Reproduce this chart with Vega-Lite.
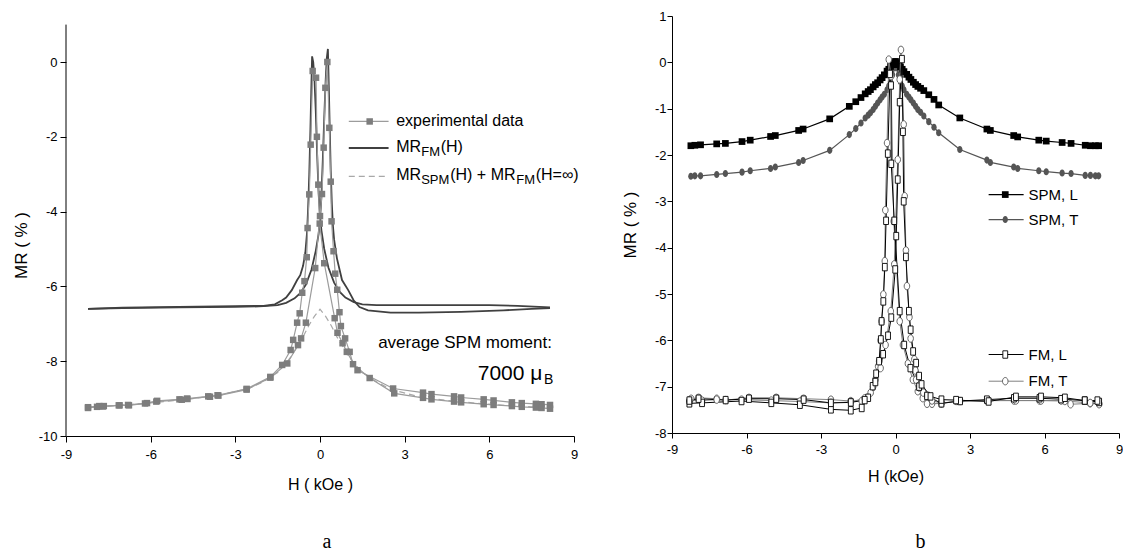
{
"$schema": "https://vega.github.io/schema/vega-lite/v6.json",
"background": "white",
"padding": {"left": 12, "top": 10, "right": 0, "bottom": 0},
"bounds": "flush",
"spacing": 98,
"config": {
  "view": {"stroke": null},
  "axis": {"grid": false, "domainColor": "#000", "tickColor": "#000", "labelColor": "#000", "titleColor": "#000", "labelFont": "Liberation Sans", "titleFont": "Liberation Sans", "titleFontWeight": "normal", "labelFontSize": 13, "titleFontSize": 16, "labelFlush": false, "labelOverlap": false}
},
"datasets": {
"left": [
{"s":"exp","b":"A","H":8.15,"MR":-9.17},{"s":"exp","b":"A","H":7.85,"MR":-9.15},{"s":"exp","b":"A","H":7.65,"MR":-9.14},{"s":"exp","b":"A","H":7.15,"MR":-9.12},{"s":"exp","b":"A","H":6.8,"MR":-9.1},{"s":"exp","b":"A","H":6.15,"MR":-9.05},{"s":"exp","b":"A","H":5.8,"MR":-9.02},{"s":"exp","b":"A","H":5.0,"MR":-8.97},{"s":"exp","b":"A","H":4.75,"MR":-8.94},{"s":"exp","b":"A","H":3.95,"MR":-8.88},{"s":"exp","b":"A","H":3.65,"MR":-8.84},{"s":"exp","b":"A","H":2.59,"MR":-8.73},{"s":"exp","b":"A","H":1.33,"MR":-8.24},{"s":"exp","b":"A","H":0.95,"MR":-7.75},{"s":"exp","b":"A","H":0.8,"MR":-7.52},{"s":"exp","b":"A","H":0.62,"MR":-7.24},{"s":"exp","b":"A","H":0.52,"MR":-6.85},{"s":"exp","b":"A","H":0.15,"MR":-5.38},{"s":"exp","b":"A","H":-0.01,"MR":-4.32},{"s":"exp","b":"A","H":-0.06,"MR":-3.28},{"s":"exp","b":"A","H":-0.11,"MR":-2.0},{"s":"exp","b":"A","H":-0.14,"MR":-0.42},{"s":"exp","b":"A","H":-0.26,"MR":-0.24},{"s":"exp","b":"A","H":-0.33,"MR":-2.21},{"s":"exp","b":"A","H":-0.38,"MR":-3.54},{"s":"exp","b":"A","H":-0.44,"MR":-4.44},{"s":"exp","b":"A","H":-0.47,"MR":-5.22},{"s":"exp","b":"A","H":-0.55,"MR":-5.86},{"s":"exp","b":"A","H":-0.63,"MR":-6.17},{"s":"exp","b":"A","H":-0.72,"MR":-6.72},{"s":"exp","b":"A","H":-0.81,"MR":-6.97},{"s":"exp","b":"A","H":-0.95,"MR":-7.43},{"s":"exp","b":"A","H":-1.04,"MR":-7.7},{"s":"exp","b":"A","H":-1.34,"MR":-8.1},{"s":"exp","b":"A","H":-1.76,"MR":-8.42},{"s":"exp","b":"A","H":-2.6,"MR":-8.74},{"s":"exp","b":"A","H":-3.63,"MR":-8.91},{"s":"exp","b":"A","H":-3.96,"MR":-8.94},{"s":"exp","b":"A","H":-4.71,"MR":-9.0},{"s":"exp","b":"A","H":-4.98,"MR":-9.02},{"s":"exp","b":"A","H":-5.77,"MR":-9.06},{"s":"exp","b":"A","H":-6.13,"MR":-9.12},{"s":"exp","b":"A","H":-6.77,"MR":-9.18},{"s":"exp","b":"A","H":-7.13,"MR":-9.18},{"s":"exp","b":"A","H":-7.66,"MR":-9.2},{"s":"exp","b":"A","H":-7.82,"MR":-9.2},{"s":"exp","b":"A","H":-8.22,"MR":-9.23},
{"s":"exp","b":"B","H":-8.22,"MR":-9.25},{"s":"exp","b":"B","H":-7.9,"MR":-9.22},{"s":"exp","b":"B","H":-7.7,"MR":-9.21},{"s":"exp","b":"B","H":-7.1,"MR":-9.18},{"s":"exp","b":"B","H":-6.8,"MR":-9.17},{"s":"exp","b":"B","H":-6.2,"MR":-9.13},{"s":"exp","b":"B","H":-5.8,"MR":-9.08},{"s":"exp","b":"B","H":-4.9,"MR":-9.03},{"s":"exp","b":"B","H":-4.7,"MR":-9.01},{"s":"exp","b":"B","H":-3.9,"MR":-8.95},{"s":"exp","b":"B","H":-3.6,"MR":-8.92},{"s":"exp","b":"B","H":-2.6,"MR":-8.76},{"s":"exp","b":"B","H":-1.76,"MR":-8.44},{"s":"exp","b":"B","H":-1.16,"MR":-8.06},{"s":"exp","b":"B","H":-0.78,"MR":-7.57},{"s":"exp","b":"B","H":-0.67,"MR":-7.39},{"s":"exp","b":"B","H":-0.5,"MR":-6.97},{"s":"exp","b":"B","H":-0.17,"MR":-5.51},{"s":"exp","b":"B","H":0.0,"MR":-4.12},{"s":"exp","b":"B","H":0.07,"MR":-3.53},{"s":"exp","b":"B","H":0.13,"MR":-2.29},{"s":"exp","b":"B","H":0.19,"MR":-0.69},{"s":"exp","b":"B","H":0.26,"MR":0.0},{"s":"exp","b":"B","H":0.33,"MR":-1.76},{"s":"exp","b":"B","H":0.38,"MR":-3.2},{"s":"exp","b":"B","H":0.41,"MR":-4.26},{"s":"exp","b":"B","H":0.48,"MR":-5.06},{"s":"exp","b":"B","H":0.54,"MR":-5.66},{"s":"exp","b":"B","H":0.61,"MR":-6.09},{"s":"exp","b":"B","H":0.69,"MR":-6.69},{"s":"exp","b":"B","H":0.74,"MR":-7.06},{"s":"exp","b":"B","H":0.89,"MR":-7.39},{"s":"exp","b":"B","H":1.05,"MR":-7.75},{"s":"exp","b":"B","H":1.17,"MR":-8.08},{"s":"exp","b":"B","H":1.76,"MR":-8.45},{"s":"exp","b":"B","H":2.63,"MR":-8.86},{"s":"exp","b":"B","H":3.65,"MR":-8.98},{"s":"exp","b":"B","H":3.95,"MR":-9.02},{"s":"exp","b":"B","H":4.75,"MR":-9.08},{"s":"exp","b":"B","H":5.0,"MR":-9.1},{"s":"exp","b":"B","H":5.8,"MR":-9.15},{"s":"exp","b":"B","H":6.15,"MR":-9.17},{"s":"exp","b":"B","H":6.8,"MR":-9.2},{"s":"exp","b":"B","H":7.15,"MR":-9.22},{"s":"exp","b":"B","H":7.65,"MR":-9.24},{"s":"exp","b":"B","H":7.85,"MR":-9.25},{"s":"exp","b":"B","H":8.15,"MR":-9.27},
{"s":"fm","b":"A","H":8.15,"MR":-6.56},{"s":"fm","b":"A","H":7,"MR":-6.52},{"s":"fm","b":"A","H":6,"MR":-6.5},{"s":"fm","b":"A","H":5,"MR":-6.5},{"s":"fm","b":"A","H":4,"MR":-6.5},{"s":"fm","b":"A","H":3,"MR":-6.5},{"s":"fm","b":"A","H":2,"MR":-6.5},{"s":"fm","b":"A","H":1.5,"MR":-6.48},{"s":"fm","b":"A","H":1.2,"MR":-6.42},{"s":"fm","b":"A","H":0.9,"MR":-6.3},{"s":"fm","b":"A","H":0.7,"MR":-6.15},{"s":"fm","b":"A","H":0.5,"MR":-5.9},{"s":"fm","b":"A","H":0.3,"MR":-5.5},{"s":"fm","b":"A","H":0.15,"MR":-5.0},{"s":"fm","b":"A","H":0.05,"MR":-4.5},{"s":"fm","b":"A","H":0.0,"MR":-4.1},{"s":"fm","b":"A","H":-0.05,"MR":-3.5},{"s":"fm","b":"A","H":-0.1,"MR":-2.5},{"s":"fm","b":"A","H":-0.15,"MR":-1.3},{"s":"fm","b":"A","H":-0.2,"MR":-0.4},{"s":"fm","b":"A","H":-0.24,"MR":0.0},{"s":"fm","b":"A","H":-0.28,"MR":0.15},{"s":"fm","b":"A","H":-0.31,"MR":-0.8},{"s":"fm","b":"A","H":-0.34,"MR":-1.8},{"s":"fm","b":"A","H":-0.38,"MR":-3.0},{"s":"fm","b":"A","H":-0.42,"MR":-3.9},{"s":"fm","b":"A","H":-0.46,"MR":-4.57},{"s":"fm","b":"A","H":-0.52,"MR":-5.1},{"s":"fm","b":"A","H":-0.6,"MR":-5.45},{"s":"fm","b":"A","H":-0.7,"MR":-5.7},{"s":"fm","b":"A","H":-0.81,"MR":-5.83},{"s":"fm","b":"A","H":-1.0,"MR":-6.1},{"s":"fm","b":"A","H":-1.2,"MR":-6.3},{"s":"fm","b":"A","H":-1.34,"MR":-6.37},{"s":"fm","b":"A","H":-1.6,"MR":-6.48},{"s":"fm","b":"A","H":-2,"MR":-6.52},{"s":"fm","b":"A","H":-3,"MR":-6.53},{"s":"fm","b":"A","H":-5,"MR":-6.55},{"s":"fm","b":"A","H":-7,"MR":-6.57},{"s":"fm","b":"A","H":-8.22,"MR":-6.6},
{"s":"fm","b":"B","H":-8.22,"MR":-6.6},{"s":"fm","b":"B","H":-7,"MR":-6.58},{"s":"fm","b":"B","H":-5,"MR":-6.56},{"s":"fm","b":"B","H":-3,"MR":-6.55},{"s":"fm","b":"B","H":-2,"MR":-6.53},{"s":"fm","b":"B","H":-1.5,"MR":-6.5},{"s":"fm","b":"B","H":-1.2,"MR":-6.44},{"s":"fm","b":"B","H":-0.9,"MR":-6.32},{"s":"fm","b":"B","H":-0.7,"MR":-6.18},{"s":"fm","b":"B","H":-0.5,"MR":-5.95},{"s":"fm","b":"B","H":-0.3,"MR":-5.55},{"s":"fm","b":"B","H":-0.15,"MR":-5.05},{"s":"fm","b":"B","H":-0.05,"MR":-4.6},{"s":"fm","b":"B","H":0.0,"MR":-4.22},{"s":"fm","b":"B","H":0.05,"MR":-3.6},{"s":"fm","b":"B","H":0.1,"MR":-2.6},{"s":"fm","b":"B","H":0.15,"MR":-1.5},{"s":"fm","b":"B","H":0.2,"MR":-0.5},{"s":"fm","b":"B","H":0.24,"MR":0.1},{"s":"fm","b":"B","H":0.28,"MR":0.35},{"s":"fm","b":"B","H":0.31,"MR":-0.6},{"s":"fm","b":"B","H":0.34,"MR":-1.6},{"s":"fm","b":"B","H":0.38,"MR":-2.9},{"s":"fm","b":"B","H":0.42,"MR":-3.8},{"s":"fm","b":"B","H":0.46,"MR":-4.4},{"s":"fm","b":"B","H":0.5,"MR":-4.75},{"s":"fm","b":"B","H":0.6,"MR":-5.25},{"s":"fm","b":"B","H":0.78,"MR":-5.83},{"s":"fm","b":"B","H":1.0,"MR":-6.1},{"s":"fm","b":"B","H":1.19,"MR":-6.37},{"s":"fm","b":"B","H":1.4,"MR":-6.55},{"s":"fm","b":"B","H":1.7,"MR":-6.64},{"s":"fm","b":"B","H":2.5,"MR":-6.7},{"s":"fm","b":"B","H":3.5,"MR":-6.7},{"s":"fm","b":"B","H":5,"MR":-6.68},{"s":"fm","b":"B","H":6.5,"MR":-6.64},{"s":"fm","b":"B","H":7.5,"MR":-6.6},{"s":"fm","b":"B","H":8.15,"MR":-6.58},
{"s":"spm","b":"A","H":-8.22,"MR":-9.24},{"s":"spm","b":"A","H":-7.5,"MR":-9.2},{"s":"spm","b":"A","H":-6.5,"MR":-9.15},{"s":"spm","b":"A","H":-5.5,"MR":-9.08},{"s":"spm","b":"A","H":-4.5,"MR":-9.0},{"s":"spm","b":"A","H":-3.5,"MR":-8.9},{"s":"spm","b":"A","H":-2.5,"MR":-8.72},{"s":"spm","b":"A","H":-2.0,"MR":-8.55},{"s":"spm","b":"A","H":-1.5,"MR":-8.3},{"s":"spm","b":"A","H":-1.2,"MR":-8.05},{"s":"spm","b":"A","H":-1.0,"MR":-7.85},{"s":"spm","b":"A","H":-0.8,"MR":-7.6},{"s":"spm","b":"A","H":-0.6,"MR":-7.35},{"s":"spm","b":"A","H":-0.4,"MR":-7.05},{"s":"spm","b":"A","H":-0.2,"MR":-6.8},{"s":"spm","b":"A","H":0.0,"MR":-6.61},{"s":"spm","b":"A","H":0.2,"MR":-6.8},{"s":"spm","b":"A","H":0.4,"MR":-7.05},{"s":"spm","b":"A","H":0.6,"MR":-7.35},{"s":"spm","b":"A","H":0.8,"MR":-7.6},{"s":"spm","b":"A","H":1.0,"MR":-7.85},{"s":"spm","b":"A","H":1.2,"MR":-8.05},{"s":"spm","b":"A","H":1.5,"MR":-8.3},{"s":"spm","b":"A","H":2.0,"MR":-8.55},{"s":"spm","b":"A","H":2.5,"MR":-8.75},{"s":"spm","b":"A","H":3.5,"MR":-8.95},{"s":"spm","b":"A","H":4.5,"MR":-9.05},{"s":"spm","b":"A","H":5.5,"MR":-9.12},{"s":"spm","b":"A","H":6.5,"MR":-9.18},{"s":"spm","b":"A","H":7.5,"MR":-9.22},{"s":"spm","b":"A","H":8.15,"MR":-9.25}
],
"right": [
{"s":"SPML","H":-8.24,"MR":-1.8},{"s":"SPML","H":-8.08,"MR":-1.79},{"s":"SPML","H":-7.85,"MR":-1.78},{"s":"SPML","H":-7.2,"MR":-1.76},{"s":"SPML","H":-6.85,"MR":-1.75},{"s":"SPML","H":-6.18,"MR":-1.71},{"s":"SPML","H":-5.85,"MR":-1.68},{"s":"SPML","H":-5.03,"MR":-1.6},{"s":"SPML","H":-4.84,"MR":-1.58},{"s":"SPML","H":-3.9,"MR":-1.47},{"s":"SPML","H":-3.72,"MR":-1.44},{"s":"SPML","H":-2.65,"MR":-1.22},{"s":"SPML","H":-1.86,"MR":-0.95},{"s":"SPML","H":-1.6,"MR":-0.85},{"s":"SPML","H":-1.39,"MR":-0.76},{"s":"SPML","H":-1.22,"MR":-0.68},{"s":"SPML","H":-1.1,"MR":-0.63},{"s":"SPML","H":-1.01,"MR":-0.59},{"s":"SPML","H":-0.9,"MR":-0.53},{"s":"SPML","H":-0.81,"MR":-0.48},{"s":"SPML","H":-0.72,"MR":-0.44},{"s":"SPML","H":-0.62,"MR":-0.38},{"s":"SPML","H":-0.54,"MR":-0.33},{"s":"SPML","H":-0.45,"MR":-0.27},{"s":"SPML","H":-0.34,"MR":-0.19},{"s":"SPML","H":-0.27,"MR":-0.15},{"s":"SPML","H":-0.2,"MR":-0.09},{"s":"SPML","H":-0.12,"MR":-0.05},{"s":"SPML","H":-0.05,"MR":-0.01},{"s":"SPML","H":0.0,"MR":0.02},{"s":"SPML","H":0.05,"MR":-0.01},{"s":"SPML","H":0.12,"MR":-0.05},{"s":"SPML","H":0.2,"MR":-0.1},{"s":"SPML","H":0.27,"MR":-0.15},{"s":"SPML","H":0.34,"MR":-0.2},{"s":"SPML","H":0.45,"MR":-0.26},{"s":"SPML","H":0.54,"MR":-0.32},{"s":"SPML","H":0.62,"MR":-0.37},{"s":"SPML","H":0.72,"MR":-0.43},{"s":"SPML","H":0.81,"MR":-0.48},{"s":"SPML","H":0.9,"MR":-0.52},{"s":"SPML","H":1.01,"MR":-0.56},{"s":"SPML","H":1.14,"MR":-0.61},{"s":"SPML","H":1.34,"MR":-0.7},{"s":"SPML","H":1.55,"MR":-0.8},{"s":"SPML","H":1.74,"MR":-0.92},{"s":"SPML","H":2.59,"MR":-1.2},{"s":"SPML","H":3.68,"MR":-1.44},{"s":"SPML","H":3.82,"MR":-1.47},{"s":"SPML","H":4.76,"MR":-1.58},{"s":"SPML","H":4.92,"MR":-1.61},{"s":"SPML","H":5.77,"MR":-1.68},{"s":"SPML","H":6.07,"MR":-1.7},{"s":"SPML","H":6.71,"MR":-1.73},{"s":"SPML","H":7.07,"MR":-1.75},{"s":"SPML","H":7.64,"MR":-1.79},{"s":"SPML","H":7.85,"MR":-1.8},{"s":"SPML","H":8.05,"MR":-1.8},{"s":"SPML","H":8.18,"MR":-1.8},
{"s":"SPMT","H":-8.24,"MR":-2.46},{"s":"SPMT","H":-8.08,"MR":-2.45},{"s":"SPMT","H":-7.85,"MR":-2.45},{"s":"SPMT","H":-7.2,"MR":-2.42},{"s":"SPMT","H":-6.85,"MR":-2.4},{"s":"SPMT","H":-6.18,"MR":-2.37},{"s":"SPMT","H":-5.85,"MR":-2.34},{"s":"SPMT","H":-5.03,"MR":-2.29},{"s":"SPMT","H":-4.84,"MR":-2.26},{"s":"SPMT","H":-3.9,"MR":-2.16},{"s":"SPMT","H":-3.72,"MR":-2.12},{"s":"SPMT","H":-2.65,"MR":-1.9},{"s":"SPMT","H":-1.86,"MR":-1.56},{"s":"SPMT","H":-1.6,"MR":-1.43},{"s":"SPMT","H":-1.39,"MR":-1.31},{"s":"SPMT","H":-1.22,"MR":-1.2},{"s":"SPMT","H":-1.1,"MR":-1.14},{"s":"SPMT","H":-1.01,"MR":-1.09},{"s":"SPMT","H":-0.9,"MR":-1.02},{"s":"SPMT","H":-0.81,"MR":-0.95},{"s":"SPMT","H":-0.72,"MR":-0.88},{"s":"SPMT","H":-0.62,"MR":-0.81},{"s":"SPMT","H":-0.54,"MR":-0.75},{"s":"SPMT","H":-0.45,"MR":-0.69},{"s":"SPMT","H":-0.34,"MR":-0.59},{"s":"SPMT","H":-0.27,"MR":-0.51},{"s":"SPMT","H":-0.2,"MR":-0.42},{"s":"SPMT","H":-0.12,"MR":-0.27},{"s":"SPMT","H":-0.05,"MR":-0.12},{"s":"SPMT","H":0.0,"MR":0.01},{"s":"SPMT","H":0.05,"MR":-0.12},{"s":"SPMT","H":0.12,"MR":-0.27},{"s":"SPMT","H":0.2,"MR":-0.42},{"s":"SPMT","H":0.27,"MR":-0.51},{"s":"SPMT","H":0.34,"MR":-0.59},{"s":"SPMT","H":0.45,"MR":-0.69},{"s":"SPMT","H":0.54,"MR":-0.75},{"s":"SPMT","H":0.62,"MR":-0.81},{"s":"SPMT","H":0.72,"MR":-0.88},{"s":"SPMT","H":0.81,"MR":-0.95},{"s":"SPMT","H":0.9,"MR":-1.02},{"s":"SPMT","H":1.01,"MR":-1.08},{"s":"SPMT","H":1.14,"MR":-1.16},{"s":"SPMT","H":1.34,"MR":-1.28},{"s":"SPMT","H":1.55,"MR":-1.4},{"s":"SPMT","H":1.74,"MR":-1.52},{"s":"SPMT","H":2.59,"MR":-1.88},{"s":"SPMT","H":3.68,"MR":-2.11},{"s":"SPMT","H":3.82,"MR":-2.16},{"s":"SPMT","H":4.76,"MR":-2.26},{"s":"SPMT","H":4.92,"MR":-2.29},{"s":"SPMT","H":5.77,"MR":-2.34},{"s":"SPMT","H":6.07,"MR":-2.36},{"s":"SPMT","H":6.71,"MR":-2.39},{"s":"SPMT","H":7.07,"MR":-2.4},{"s":"SPMT","H":7.64,"MR":-2.44},{"s":"SPMT","H":7.85,"MR":-2.44},{"s":"SPMT","H":8.05,"MR":-2.45},{"s":"SPMT","H":8.18,"MR":-2.45},
{"s":"FML","b":"A","H":8.2,"MR":-7.33},{"s":"FML","b":"A","H":7.62,"MR":-7.3},{"s":"FML","b":"A","H":6.67,"MR":-7.27},{"s":"FML","b":"A","H":5.8,"MR":-7.25},{"s":"FML","b":"A","H":4.77,"MR":-7.25},{"s":"FML","b":"A","H":3.68,"MR":-7.28},{"s":"FML","b":"A","H":2.6,"MR":-7.31},{"s":"FML","b":"A","H":1.85,"MR":-7.36},{"s":"FML","b":"A","H":1.27,"MR":-7.2},{"s":"FML","b":"A","H":0.95,"MR":-7.0},{"s":"FML","b":"A","H":0.6,"MR":-6.6},{"s":"FML","b":"A","H":0.35,"MR":-6.1},{"s":"FML","b":"A","H":0.17,"MR":-5.37},{"s":"FML","b":"A","H":-0.05,"MR":-3.42},{"s":"FML","b":"A","H":-0.17,"MR":-2.19},{"s":"FML","b":"A","H":-0.18,"MR":-0.5},{"s":"FML","b":"A","H":-0.22,"MR":-0.25},{"s":"FML","b":"A","H":-0.31,"MR":-1.97},{"s":"FML","b":"A","H":-0.38,"MR":-3.42},{"s":"FML","b":"A","H":-0.43,"MR":-4.42},{"s":"FML","b":"A","H":-0.49,"MR":-5.16},{"s":"FML","b":"A","H":-0.56,"MR":-5.59},{"s":"FML","b":"A","H":-0.59,"MR":-5.98},{"s":"FML","b":"A","H":-0.66,"MR":-6.45},{"s":"FML","b":"A","H":-0.78,"MR":-6.72},{"s":"FML","b":"A","H":-0.92,"MR":-6.99},{"s":"FML","b":"A","H":-1.1,"MR":-7.24},{"s":"FML","b":"A","H":-1.36,"MR":-7.46},{"s":"FML","b":"A","H":-1.8,"MR":-7.51},{"s":"FML","b":"A","H":-2.6,"MR":-7.49},{"s":"FML","b":"A","H":-3.85,"MR":-7.39},{"s":"FML","b":"A","H":-5.0,"MR":-7.35},{"s":"FML","b":"A","H":-6.2,"MR":-7.31},{"s":"FML","b":"A","H":-7.79,"MR":-7.35},{"s":"FML","b":"A","H":-8.3,"MR":-7.36},
{"s":"FML","b":"B","H":-8.3,"MR":-7.3},{"s":"FML","b":"B","H":-7.93,"MR":-7.26},{"s":"FML","b":"B","H":-6.84,"MR":-7.29},{"s":"FML","b":"B","H":-5.9,"MR":-7.26},{"s":"FML","b":"B","H":-4.8,"MR":-7.26},{"s":"FML","b":"B","H":-3.7,"MR":-7.28},{"s":"FML","b":"B","H":-2.6,"MR":-7.35},{"s":"FML","b":"B","H":-1.8,"MR":-7.34},{"s":"FML","b":"B","H":-1.24,"MR":-7.29},{"s":"FML","b":"B","H":-0.81,"MR":-6.9},{"s":"FML","b":"B","H":-0.5,"MR":-6.3},{"s":"FML","b":"B","H":-0.3,"MR":-5.9},{"s":"FML","b":"B","H":-0.17,"MR":-5.51},{"s":"FML","b":"B","H":-0.01,"MR":-4.47},{"s":"FML","b":"B","H":0.03,"MR":-3.75},{"s":"FML","b":"B","H":0.09,"MR":-2.53},{"s":"FML","b":"B","H":0.17,"MR":-0.86},{"s":"FML","b":"B","H":0.26,"MR":0.07},{"s":"FML","b":"B","H":0.3,"MR":-1.5},{"s":"FML","b":"B","H":0.33,"MR":-3.0},{"s":"FML","b":"B","H":0.42,"MR":-4.2},{"s":"FML","b":"B","H":0.54,"MR":-5.37},{"s":"FML","b":"B","H":0.61,"MR":-5.77},{"s":"FML","b":"B","H":0.71,"MR":-6.24},{"s":"FML","b":"B","H":0.83,"MR":-6.49},{"s":"FML","b":"B","H":0.95,"MR":-6.77},{"s":"FML","b":"B","H":1.05,"MR":-6.95},{"s":"FML","b":"B","H":1.41,"MR":-7.21},{"s":"FML","b":"B","H":1.85,"MR":-7.28},{"s":"FML","b":"B","H":2.44,"MR":-7.29},{"s":"FML","b":"B","H":3.75,"MR":-7.32},{"s":"FML","b":"B","H":4.85,"MR":-7.22},{"s":"FML","b":"B","H":5.86,"MR":-7.22},{"s":"FML","b":"B","H":6.82,"MR":-7.24},{"s":"FML","b":"B","H":7.62,"MR":-7.3},{"s":"FML","b":"B","H":8.13,"MR":-7.3},
{"s":"FMT","b":"A","H":8.2,"MR":-7.36},{"s":"FMT","b":"A","H":7.84,"MR":-7.36},{"s":"FMT","b":"A","H":7.05,"MR":-7.38},{"s":"FMT","b":"A","H":6.67,"MR":-7.3},{"s":"FMT","b":"A","H":5.8,"MR":-7.3},{"s":"FMT","b":"A","H":4.77,"MR":-7.3},{"s":"FMT","b":"A","H":3.68,"MR":-7.3},{"s":"FMT","b":"A","H":2.6,"MR":-7.31},{"s":"FMT","b":"A","H":1.85,"MR":-7.36},{"s":"FMT","b":"A","H":1.47,"MR":-7.37},{"s":"FMT","b":"A","H":1.27,"MR":-7.37},{"s":"FMT","b":"A","H":1.1,"MR":-7.25},{"s":"FMT","b":"A","H":0.9,"MR":-7.1},{"s":"FMT","b":"A","H":0.7,"MR":-6.85},{"s":"FMT","b":"A","H":0.5,"MR":-6.5},{"s":"FMT","b":"A","H":0.3,"MR":-6.1},{"s":"FMT","b":"A","H":0.17,"MR":-5.59},{"s":"FMT","b":"A","H":-0.07,"MR":-3.43},{"s":"FMT","b":"A","H":-0.18,"MR":-0.3},{"s":"FMT","b":"A","H":-0.27,"MR":0.06},{"s":"FMT","b":"A","H":-0.34,"MR":-1.74},{"s":"FMT","b":"A","H":-0.41,"MR":-3.19},{"s":"FMT","b":"A","H":-0.43,"MR":-4.29},{"s":"FMT","b":"A","H":-0.49,"MR":-5.01},{"s":"FMT","b":"A","H":-0.56,"MR":-5.59},{"s":"FMT","b":"A","H":-0.6,"MR":-6.0},{"s":"FMT","b":"A","H":-0.66,"MR":-6.45},{"s":"FMT","b":"A","H":-0.7,"MR":-6.56},{"s":"FMT","b":"A","H":-0.81,"MR":-6.85},{"s":"FMT","b":"A","H":-1.0,"MR":-7.13},{"s":"FMT","b":"A","H":-1.36,"MR":-7.31},{"s":"FMT","b":"A","H":-1.8,"MR":-7.31},{"s":"FMT","b":"A","H":-2.6,"MR":-7.28},{"s":"FMT","b":"A","H":-3.7,"MR":-7.26},{"s":"FMT","b":"A","H":-4.8,"MR":-7.24},{"s":"FMT","b":"A","H":-5.9,"MR":-7.24},{"s":"FMT","b":"A","H":-6.84,"MR":-7.29},{"s":"FMT","b":"A","H":-7.2,"MR":-7.26},{"s":"FMT","b":"A","H":-7.93,"MR":-7.24},{"s":"FMT","b":"A","H":-8.23,"MR":-7.26},
{"s":"FMT","b":"B","H":-8.3,"MR":-7.3},{"s":"FMT","b":"B","H":-7.79,"MR":-7.3},{"s":"FMT","b":"B","H":-7.2,"MR":-7.28},{"s":"FMT","b":"B","H":-6.2,"MR":-7.28},{"s":"FMT","b":"B","H":-5.0,"MR":-7.3},{"s":"FMT","b":"B","H":-3.85,"MR":-7.32},{"s":"FMT","b":"B","H":-2.6,"MR":-7.35},{"s":"FMT","b":"B","H":-1.8,"MR":-7.33},{"s":"FMT","b":"B","H":-1.24,"MR":-7.25},{"s":"FMT","b":"B","H":-0.9,"MR":-7.0},{"s":"FMT","b":"B","H":-0.6,"MR":-6.6},{"s":"FMT","b":"B","H":-0.4,"MR":-6.1},{"s":"FMT","b":"B","H":-0.19,"MR":-5.37},{"s":"FMT","b":"B","H":-0.05,"MR":-4.36},{"s":"FMT","b":"B","H":0.09,"MR":-2.1},{"s":"FMT","b":"B","H":0.17,"MR":-0.37},{"s":"FMT","b":"B","H":0.22,"MR":0.27},{"s":"FMT","b":"B","H":0.33,"MR":-1.34},{"s":"FMT","b":"B","H":0.37,"MR":-2.89},{"s":"FMT","b":"B","H":0.42,"MR":-4.06},{"s":"FMT","b":"B","H":0.46,"MR":-4.83},{"s":"FMT","b":"B","H":0.56,"MR":-5.5},{"s":"FMT","b":"B","H":0.61,"MR":-5.96},{"s":"FMT","b":"B","H":0.76,"MR":-6.41},{"s":"FMT","b":"B","H":0.8,"MR":-6.65},{"s":"FMT","b":"B","H":0.83,"MR":-6.85},{"s":"FMT","b":"B","H":0.95,"MR":-7.02},{"s":"FMT","b":"B","H":1.12,"MR":-7.13},{"s":"FMT","b":"B","H":1.27,"MR":-7.2},{"s":"FMT","b":"B","H":1.47,"MR":-7.3},{"s":"FMT","b":"B","H":1.85,"MR":-7.36},{"s":"FMT","b":"B","H":2.44,"MR":-7.31},{"s":"FMT","b":"B","H":3.75,"MR":-7.3},{"s":"FMT","b":"B","H":4.85,"MR":-7.3},{"s":"FMT","b":"B","H":5.86,"MR":-7.3},{"s":"FMT","b":"B","H":6.82,"MR":-7.31},{"s":"FMT","b":"B","H":7.84,"MR":-7.35},{"s":"FMT","b":"B","H":8.2,"MR":-7.38}
]
},
"hconcat": [
{
  "width": 508, "height": 420,
  "title": {"text": "a", "orient": "bottom", "font": "Liberation Serif", "fontSize": 20, "fontWeight": "normal", "color": "#000", "offset": 40, "dx": 7},
  "layer": [
    {"data": {"name": "left"}, "transform": [{"filter": "datum.s == 'spm'"}], "mark": {"type": "line", "color": "#a8a8a8", "strokeWidth": 1.2, "strokeDash": [6, 4]},
     "encoding": {
      "x": {"field": "H", "type": "quantitative", "scale": {"domain": [-9, 9], "nice": false, "zero": false},
        "axis": {"title": "H ( kOe )", "values": [-9,-6,-3,0,3,6,9], "labelExpr": "'' + datum.value", "tickSize": 6, "labelPadding": 6, "titlePadding": 15, "labelOverlap": false}},
      "y": {"field": "MR", "type": "quantitative", "scale": {"domain": [-10, 1.23], "nice": false, "zero": false},
        "axis": {"title": "MR ( % )", "values": [-10,-8,-6,-4,-2,0], "labelExpr": "'' + datum.value", "tickSize": 6, "domain": false, "labelPadding": 3, "titlePadding": 8, "titleFontSize": 17, "titleY": 229, "labelOverlap": false}},
      "detail": {"field": "b"}}},
    {"data": {"name": "left"}, "transform": [{"filter": "datum.s == 'fm'"}], "mark": {"type": "line", "color": "#404040", "strokeWidth": 1.8}, "encoding": {"x": {"field": "H", "type": "quantitative"}, "y": {"field": "MR", "type": "quantitative"}, "detail": {"field": "b"}}},
    {"data": {"name": "left"}, "transform": [{"filter": "datum.s == 'exp'"}], "mark": {"type": "line", "color": "#9c9c9c", "strokeWidth": 1.2}, "encoding": {"x": {"field": "H", "type": "quantitative"}, "y": {"field": "MR", "type": "quantitative"}, "detail": {"field": "b"}}},
    {"data": {"name": "left"}, "transform": [{"filter": "datum.s == 'exp'"}], "mark": {"type": "point", "shape": "square", "filled": true, "color": "#7d7d7d", "size": 42, "opacity": 1}, "encoding": {"x": {"field": "H", "type": "quantitative"}, "y": {"field": "MR", "type": "quantitative"}}},
    {"data": {"values": [{"k": 1}]}, "mark": {"type": "rule", "color": "#000", "strokeWidth": 1}, "encoding": {"x": {"datum": -9}, "y": {"datum": -10}, "y2": {"datum": 1}}},
    {"data": {"values": [{"k": 1}]}, "mark": {"type": "rule", "color": "#9c9c9c", "strokeWidth": 1.2}, "encoding": {"x": {"datum": 1.02}, "x2": {"datum": 2.43}, "y": {"datum": -1.59}}},
    {"data": {"values": [{"k": 1}]}, "mark": {"type": "point", "shape": "square", "filled": true, "color": "#7d7d7d", "size": 42, "opacity": 1}, "encoding": {"x": {"datum": 1.76}, "y": {"datum": -1.59}}},
    {"data": {"values": [{"k": 1}]}, "mark": {"type": "rule", "color": "#404040", "strokeWidth": 1.8}, "encoding": {"x": {"datum": 1.02}, "x2": {"datum": 2.43}, "y": {"datum": -2.3}}},
    {"data": {"values": [{"k": 1}]}, "mark": {"type": "rule", "color": "#a8a8a8", "strokeWidth": 1.2, "strokeDash": [6, 4]}, "encoding": {"x": {"datum": 1.02}, "x2": {"datum": 2.43}, "y": {"datum": -3.06}}},
    {"data": {"values": [{"k": 1}]}, "mark": {"type": "text", "text": "experimental data", "align": "left", "baseline": "middle", "font": "Liberation Sans", "fontSize": 16, "color": "#000"}, "encoding": {"x": {"datum": 2.7}, "y": {"datum": -1.57}}},
    {"data": {"values": [{"k": 1}]}, "mark": {"type": "text", "text": "MR", "align": "left", "baseline": "middle", "font": "Liberation Sans", "fontSize": 16, "color": "#000"}, "encoding": {"x": {"datum": 2.7}, "y": {"datum": -2.27}}},
    {"data": {"values": [{"k": 1}]}, "mark": {"type": "text", "text": "FM", "align": "left", "baseline": "middle", "dx": 25, "dy": 5, "font": "Liberation Sans", "fontSize": 13, "color": "#000"}, "encoding": {"x": {"datum": 2.7}, "y": {"datum": -2.27}}},
    {"data": {"values": [{"k": 1}]}, "mark": {"type": "text", "text": "(H)", "align": "left", "baseline": "middle", "dx": 44.5, "font": "Liberation Sans", "fontSize": 16, "color": "#000"}, "encoding": {"x": {"datum": 2.7}, "y": {"datum": -2.27}}},
    {"data": {"values": [{"k": 1}]}, "mark": {"type": "text", "text": "MR", "align": "left", "baseline": "middle", "font": "Liberation Sans", "fontSize": 16, "color": "#000"}, "encoding": {"x": {"datum": 2.7}, "y": {"datum": -3.03}}},
    {"data": {"values": [{"k": 1}]}, "mark": {"type": "text", "text": "SPM", "align": "left", "baseline": "middle", "dx": 25, "dy": 5, "font": "Liberation Sans", "fontSize": 13, "color": "#000"}, "encoding": {"x": {"datum": 2.7}, "y": {"datum": -3.03}}},
    {"data": {"values": [{"k": 1}]}, "mark": {"type": "text", "text": "(H) + MR", "align": "left", "baseline": "middle", "dx": 54, "font": "Liberation Sans", "fontSize": 16, "color": "#000"}, "encoding": {"x": {"datum": 2.7}, "y": {"datum": -3.03}}},
    {"data": {"values": [{"k": 1}]}, "mark": {"type": "text", "text": "FM", "align": "left", "baseline": "middle", "dx": 120, "dy": 5, "font": "Liberation Sans", "fontSize": 13, "color": "#000"}, "encoding": {"x": {"datum": 2.7}, "y": {"datum": -3.03}}},
    {"data": {"values": [{"k": 1}]}, "mark": {"type": "text", "text": "(H=∞)", "align": "left", "baseline": "middle", "dx": 139.5, "font": "Liberation Sans", "fontSize": 16, "color": "#000"}, "encoding": {"x": {"datum": 2.7}, "y": {"datum": -3.03}}},
    {"data": {"values": [{"k": 1}]}, "mark": {"type": "text", "text": "average SPM moment:", "align": "right", "baseline": "alphabetic", "font": "Liberation Sans", "fontSize": 17, "color": "#000"}, "encoding": {"x": {"datum": 8.22}, "y": {"datum": -7.65}}},
    {"data": {"values": [{"k": 1}]}, "mark": {"type": "text", "text": "7000 μ", "align": "right", "baseline": "alphabetic", "font": "Liberation Sans", "fontSize": 21, "color": "#000"}, "encoding": {"x": {"datum": 7.88}, "y": {"datum": -8.5}}},
    {"data": {"values": [{"k": 1}]}, "mark": {"type": "text", "text": "B", "align": "left", "baseline": "alphabetic", "dx": 1.5, "dy": 4, "font": "Liberation Sans", "fontSize": 14, "color": "#000"}, "encoding": {"x": {"datum": 7.88}, "y": {"datum": -8.5}}}
  ]
},
{
  "width": 447, "height": 417,
  "title": {"text": "b", "orient": "bottom", "font": "Liberation Serif", "fontSize": 20, "fontWeight": "normal", "color": "#000", "offset": 48, "dx": 25},
  "layer": [
    {"data": {"name": "right"}, "transform": [{"filter": "datum.s == 'SPMT'"}], "mark": {"type": "line", "color": "#555555", "strokeWidth": 1.2},
     "encoding": {
      "x": {"field": "H", "type": "quantitative", "scale": {"domain": [-9, 9], "nice": false, "zero": false},
        "axis": {"title": "H (kOe)", "values": [-9,-6,-3,0,3,6,9], "labelExpr": "'' + datum.value", "tickSize": 5, "labelPadding": 5, "titlePadding": 12, "labelOverlap": false}},
      "y": {"field": "MR", "type": "quantitative", "scale": {"domain": [-8, 1], "nice": false, "zero": false},
        "axis": {"title": "MR ( % )", "values": [-8,-7,-6,-5,-4,-3,-2,-1,0,1], "labelExpr": "'' + datum.value", "tickSize": 5, "labelPadding": 1, "titlePadding": 15, "titleFontSize": 17, "labelOverlap": false}}}},
    {"data": {"name": "right"}, "transform": [{"filter": "datum.s == 'SPMT'"}], "mark": {"type": "point", "shape": "M0,-1A0.75,1 0 1,1 0,1A0.75,1 0 1,1 0,-1Z", "filled": true, "color": "#555555", "size": 50, "opacity": 1}, "encoding": {"x": {"field": "H", "type": "quantitative"}, "y": {"field": "MR", "type": "quantitative"}}},
    {"data": {"name": "right"}, "transform": [{"filter": "datum.s == 'SPML'"}], "mark": {"type": "line", "color": "#000000", "strokeWidth": 1.2}, "encoding": {"x": {"field": "H", "type": "quantitative"}, "y": {"field": "MR", "type": "quantitative"}}},
    {"data": {"name": "right"}, "transform": [{"filter": "datum.s == 'SPML'"}], "mark": {"type": "point", "shape": "square", "filled": true, "color": "#000000", "size": 45, "opacity": 1}, "encoding": {"x": {"field": "H", "type": "quantitative"}, "y": {"field": "MR", "type": "quantitative"}}},
    {"data": {"name": "right"}, "transform": [{"filter": "datum.s == 'FMT'"}], "mark": {"type": "line", "color": "#808080", "strokeWidth": 1}, "encoding": {"x": {"field": "H", "type": "quantitative"}, "y": {"field": "MR", "type": "quantitative"}, "detail": {"field": "b"}}},
    {"data": {"name": "right"}, "transform": [{"filter": "datum.s == 'FML'"}], "mark": {"type": "line", "color": "#000000", "strokeWidth": 1}, "encoding": {"x": {"field": "H", "type": "quantitative"}, "y": {"field": "MR", "type": "quantitative"}, "detail": {"field": "b"}}},
    {"data": {"name": "right"}, "transform": [{"filter": "datum.s == 'FMT'"}], "mark": {"type": "point", "shape": "M0,-1A0.75,1 0 1,1 0,1A0.75,1 0 1,1 0,-1Z", "filled": true, "fill": "#ffffff", "stroke": "#555555", "strokeWidth": 0.9, "size": 55, "opacity": 1}, "encoding": {"x": {"field": "H", "type": "quantitative"}, "y": {"field": "MR", "type": "quantitative"}}},
    {"data": {"name": "right"}, "transform": [{"filter": "datum.s == 'FML'"}], "mark": {"type": "point", "shape": "M-0.65,-1H0.65V1H-0.65Z", "filled": true, "fill": "#ffffff", "stroke": "#000000", "strokeWidth": 0.9, "size": 55, "opacity": 1}, "encoding": {"x": {"field": "H", "type": "quantitative"}, "y": {"field": "MR", "type": "quantitative"}}},
    {"data": {"values": [{"k": 1}]}, "mark": {"type": "rule", "color": "#000000", "strokeWidth": 1.2}, "encoding": {"x": {"datum": 3.75}, "x2": {"datum": 5.16}, "y": {"datum": -2.854}}},
    {"data": {"values": [{"k": 1}]}, "mark": {"type": "point", "shape": "square", "filled": true, "color": "#000000", "size": 45, "opacity": 1}, "encoding": {"x": {"datum": 4.42}, "y": {"datum": -2.854}}},
    {"data": {"values": [{"k": 1}]}, "mark": {"type": "rule", "color": "#555555", "strokeWidth": 1.2}, "encoding": {"x": {"datum": 3.75}, "x2": {"datum": 5.16}, "y": {"datum": -3.394}}},
    {"data": {"values": [{"k": 1}]}, "mark": {"type": "point", "shape": "M0,-1A0.75,1 0 1,1 0,1A0.75,1 0 1,1 0,-1Z", "filled": true, "color": "#555555", "size": 50, "opacity": 1}, "encoding": {"x": {"datum": 4.42}, "y": {"datum": -3.394}}},
    {"data": {"values": [{"k": 1}]}, "mark": {"type": "rule", "color": "#000000", "strokeWidth": 1}, "encoding": {"x": {"datum": 3.75}, "x2": {"datum": 5.16}, "y": {"datum": -6.306}}},
    {"data": {"values": [{"k": 1}]}, "mark": {"type": "point", "shape": "M-0.65,-1H0.65V1H-0.65Z", "filled": true, "fill": "#ffffff", "stroke": "#000000", "strokeWidth": 0.9, "size": 55, "opacity": 1}, "encoding": {"x": {"datum": 4.42}, "y": {"datum": -6.306}}},
    {"data": {"values": [{"k": 1}]}, "mark": {"type": "rule", "color": "#808080", "strokeWidth": 1}, "encoding": {"x": {"datum": 3.75}, "x2": {"datum": 5.16}, "y": {"datum": -6.882}}},
    {"data": {"values": [{"k": 1}]}, "mark": {"type": "point", "shape": "M0,-1A0.75,1 0 1,1 0,1A0.75,1 0 1,1 0,-1Z", "filled": true, "fill": "#ffffff", "stroke": "#555555", "strokeWidth": 0.9, "size": 55, "opacity": 1}, "encoding": {"x": {"datum": 4.42}, "y": {"datum": -6.882}}},
    {"data": {"values": [{"k": 1}]}, "mark": {"type": "text", "text": "SPM, L", "align": "left", "baseline": "middle", "font": "Liberation Sans", "fontSize": 15, "color": "#000"}, "encoding": {"x": {"datum": 5.36}, "y": {"datum": -2.854}}},
    {"data": {"values": [{"k": 1}]}, "mark": {"type": "text", "text": "SPM, T", "align": "left", "baseline": "middle", "font": "Liberation Sans", "fontSize": 15, "color": "#000"}, "encoding": {"x": {"datum": 5.36}, "y": {"datum": -3.394}}},
    {"data": {"values": [{"k": 1}]}, "mark": {"type": "text", "text": "FM, L", "align": "left", "baseline": "middle", "font": "Liberation Sans", "fontSize": 15, "color": "#000"}, "encoding": {"x": {"datum": 5.36}, "y": {"datum": -6.306}}},
    {"data": {"values": [{"k": 1}]}, "mark": {"type": "text", "text": "FM, T", "align": "left", "baseline": "middle", "font": "Liberation Sans", "fontSize": 15, "color": "#000"}, "encoding": {"x": {"datum": 5.36}, "y": {"datum": -6.882}}}
  ]
}
]
}
